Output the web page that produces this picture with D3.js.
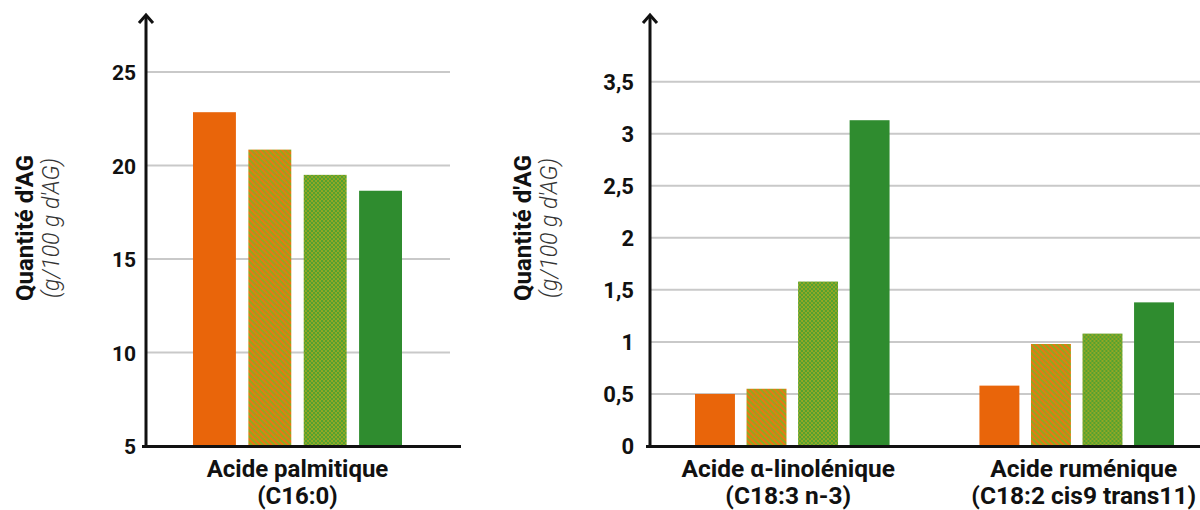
<!DOCTYPE html>
<html><head><meta charset="utf-8">
<script src="https://cdn.jsdelivr.net/npm/d3@7/dist/d3.min.js"></script>
<style>
html,body{margin:0;padding:0;background:#fff;}
svg{display:block;font-family:Roboto,"Noto Sans",sans-serif;}
</style></head>
<body><svg id="c" width="1200" height="510"></svg>
<script>
// ---- data ----
const series = ["Série 1", "Série 2", "Série 3", "Série 4"];
const leftCategories = [["Acide palmitique", "(C16:0)"]];
const leftValues = [[22.85, 20.85, 19.5, 18.65]];
const rightCategories = [["Acide α-linolénique", "(C18:3 n-3)"], ["Acide ruménique", "(C18:2 cis9 trans11)"]];
const rightValues = [[0.5, 0.55, 1.58, 3.13], [0.58, 0.98, 1.08, 1.38]];
const leftTicks = [5, 10, 15, 20, 25];
const rightTicks = [0, 0.5, 1, 1.5, 2, 2.5, 3, 3.5];
const yTitle = "Quantité d'AG";
const ySub = "(g/100 g d'AG)";

const svg = d3.select("#c");
const defs = svg.append("defs");
const ORANGE = "#e9650a", GREEN = "#2f8c2f";
// hatched pattern
const ph = defs.append("pattern").attr("id","hatch").attr("patternUnits","userSpaceOnUse")
  .attr("width",4).attr("height",4).attr("patternTransform","rotate(-45)");
ph.append("rect").attr("width",4).attr("height",4).attr("fill","#8eaa22");
ph.append("rect").attr("width",1.9).attr("height",4).attr("fill","#ee7412");
// dotted pattern
const pd = defs.append("pattern").attr("id","dots").attr("patternUnits","userSpaceOnUse")
  .attr("width",4).attr("height",4);
pd.append("rect").attr("width",4).attr("height",4).attr("fill","#96a824");
pd.append("circle").attr("cx",1).attr("cy",1).attr("r",1.2).attr("fill","#52a230");
pd.append("circle").attr("cx",3).attr("cy",3).attr("r",1.2).attr("fill","#52a230");
const fills = [ORANGE, "url(#hatch)", "url(#dots)", GREEN];

const fmt = d3.formatLocale({decimal:",", thousands:" ", grouping:[3], currency:["","€"]}).format("~g");

function panel(opt){
  const g = svg.append("g");
  const y = d3.scaleLinear().domain(opt.domain).range([446, opt.yTop]);
  const x0 = d3.scaleBand().domain(d3.range(opt.cats.length)).range(opt.xr)
    .paddingInner(opt.cats.length > 1 ? 0.316 : 0).paddingOuter(0);
  const x1 = d3.scaleBand().domain(d3.range(series.length)).range([0, x0.bandwidth()]).paddingInner(0.225).paddingOuter(0);
  // gridlines
  g.append("g").selectAll("line").data(opt.ticks.filter(t => t !== opt.domain[0])).join("line")
    .attr("x1", opt.ax).attr("x2", opt.gx2).attr("y1", d => y(d)).attr("y2", d => y(d))
    .attr("stroke","#c9c9c9").attr("stroke-width",2);
  // bars
  const grp = g.append("g").selectAll("g").data(opt.vals).join("g")
    .attr("transform",(d,i)=>`translate(${x0(i)},0)`);
  grp.selectAll("rect").data(d=>d).join("rect")
    .attr("x",(d,i)=>x1(i)).attr("width",x1.bandwidth())
    .attr("y",d=>y(d)).attr("height",d=>y(opt.domain[0])-y(d))
    .attr("fill",(d,i)=>fills[i]);
  // y axis tick labels
  const axis = d3.axisLeft(y).tickValues(opt.ticks).tickSize(0).tickPadding(opt.tickPad).tickFormat(opt.fmt);
  const ag = g.append("g").attr("transform",`translate(${opt.ax},0)`).call(axis);
  ag.select(".domain").remove();
  ag.selectAll("text").attr("font-size",opt.tickSize).attr("font-weight",700).attr("fill","#111")
    .attr("font-family","Roboto").attr("dy","0.36em");
  // axis lines
  g.append("line").attr("x1",opt.ax).attr("x2",opt.ax).attr("y1",15).attr("y2",447.5)
    .attr("stroke","#111").attr("stroke-width",3);
  g.append("path").attr("d",`M${opt.ax-7},${23}L${opt.ax},${15}L${opt.ax+7},${23}`)
    .attr("fill","none").attr("stroke","#111").attr("stroke-width",3).attr("stroke-linejoin","miter");
  g.append("line").attr("x1",opt.ax-4).attr("x2",opt.xEnd).attr("y1",y(opt.domain[0])+0.5).attr("y2",y(opt.domain[0])+0.5)
    .attr("stroke","#111").attr("stroke-width",3);
  // category labels
  opt.cats.forEach((c,i)=>{
    const cx = x0(i)+x0.bandwidth()/2 + opt.labelShift[i];
    c.forEach((line,j)=>{
      g.append("text").attr("x",cx).attr("y",477+j*27).attr("text-anchor","middle")
        .attr("font-size",opt.catSize).attr("font-weight",700).attr("fill","#111").text(line);
    });
  });
  // y title
  g.append("text").attr("transform",`translate(${opt.tx},228) rotate(-90)`).attr("text-anchor","middle")
    .attr("font-size",24).attr("font-weight",700).attr("fill","#111").text(yTitle);
  g.append("text").attr("transform",`translate(${opt.tx+26},228) rotate(-90)`).attr("text-anchor","middle")
    .attr("font-size",23).attr("font-weight",300).attr("font-style","italic").attr("fill","#333").text(ySub);
}

panel({domain:[5,25], yTop:72, ticks:leftTicks, ax:146, gx2:450, xEnd:461, xr:[193,402], cats:leftCategories, vals:leftValues,
  fmt:d3.format("d"), catSize:24, tx:33, tickSize:21, tickPad:10, labelShift:[0]});
panel({domain:[0,3.5], yTop:81.7, ticks:rightTicks, ax:650, gx2:1200, xEnd:1200, xr:[695,1174], cats:rightCategories, vals:rightValues,
  fmt:fmt, catSize:24.5, tx:531, tickSize:22, tickPad:16, labelShift:[-4,7]});
</script>
</body></html>
